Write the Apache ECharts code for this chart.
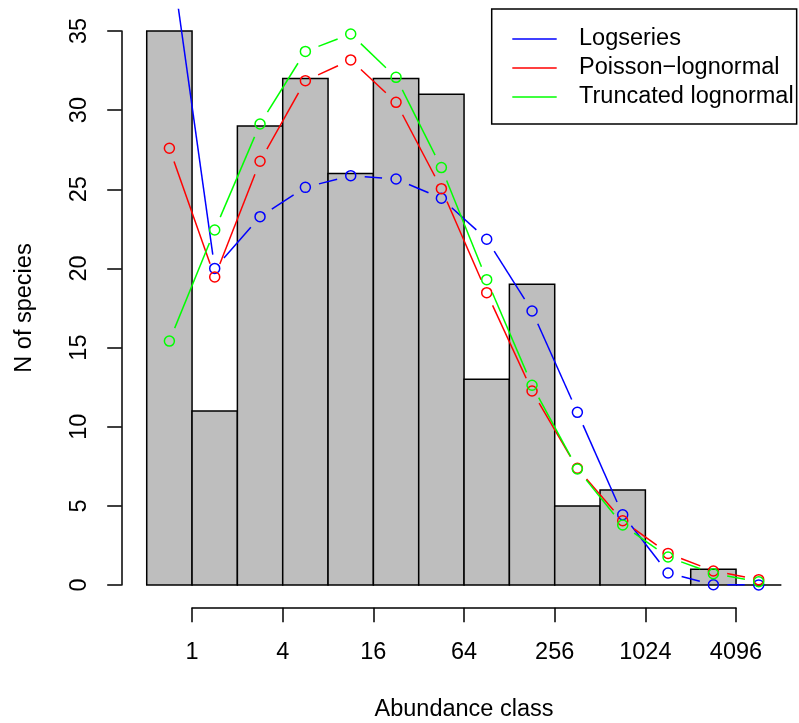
<!DOCTYPE html>
<html><head><meta charset="utf-8">
<script src="https://cdn.jsdelivr.net/npm/echarts@6/dist/echarts.min.js"></script>
<style>html,body{margin:0;padding:0;background:#fff}#c{width:799px;height:723px}</style>
</head><body><div id="c"></div>
<script>
// ---- data ----
const classTickValues = [0, 2, 4, 6, 8, 10, 12];           // log2 positions of tick labels
const classTickLabels = ['1', '4', '16', '64', '256', '1024', '4096'];
const observed = [35, 11, 29, 32, 26, 32, 31, 13, 19, 5, 6, 0, 1, 0];
const logseries = [40.5, 20.0, 23.27, 25.12, 25.86, 25.65, 24.43, 21.84, 17.31, 10.91, 4.44, 0.76, 0.02, 0.01];
const poissonLognormal = [27.59, 19.46, 26.77, 31.86, 33.17, 30.49, 25.04, 18.47, 12.26, 7.37, 4.06, 2.0, 0.89, 0.34];
const truncLognormal = [15.41, 22.43, 29.12, 33.71, 34.81, 32.07, 26.37, 19.29, 12.62, 7.33, 3.79, 1.77, 0.72, 0.21];
const seriesNames = ['Logseries', 'Poisson\u2212lognormal', 'Truncated lognormal'];
const yTicks = [0, 5, 10, 15, 20, 25, 30, 35];

// ---- styling ----
const FONT = '"Liberation Sans", Arial, Helvetica, sans-serif';
const FS = 23.5;
const colors = ['#0000FF', '#FF0000', '#00FF00'];
const LW = 1.5;
const GAP = 14;

const fitted = [logseries, poissonLognormal, truncLognormal];
const centers = observed.map((_, i) => i - 0.5);

function segData(vals) {
  const d = [];
  for (let i = 0; i < vals.length - 1; i++) d.push([centers[i], vals[i], centers[i + 1], vals[i + 1]]);
  return d;
}

const series = [];
series.push({
  type: 'custom', name: 'observed', xAxisIndex: 0, yAxisIndex: 0, z: 1,
  data: observed.map((v, i) => [i - 1, i, v]),
  encode: { x: [0, 1], y: 2 },
  renderItem: function (params, api) {
    const p0 = api.coord([api.value(0), api.value(2)]);
    const p1 = api.coord([api.value(1), 0]);
    return {
      type: 'rect',
      shape: { x: p0[0], y: p0[1], width: p1[0] - p0[0], height: p1[1] - p0[1] },
      style: { fill: '#BEBEBE', stroke: '#000', lineWidth: LW }
    };
  },
  silent: true
});

fitted.forEach((vals, k) => {
  series.push({
    type: 'custom', name: seriesNames[k], xAxisIndex: 0, yAxisIndex: 0, z: 2 + k,
    clip: true,
    data: segData(vals),
    encode: { x: [0, 2], y: [1, 3] },
    itemStyle: { color: colors[k] },
    renderItem: function (params, api) {
      const p1 = api.coord([api.value(0), api.value(1)]);
      const p2 = api.coord([api.value(2), api.value(3)]);
      const dx = p2[0] - p1[0], dy = p2[1] - p1[1];
      const L = Math.hypot(dx, dy);
      if (L <= 2 * GAP) return { type: 'group', children: [] };
      const ux = dx / L, uy = dy / L;
      return {
        type: 'line',
        shape: { x1: p1[0] + ux * GAP, y1: p1[1] + uy * GAP, x2: p2[0] - ux * GAP, y2: p2[1] - uy * GAP },
        style: { stroke: colors[k], lineWidth: LW }
      };
    },
    silent: true
  });
  series.push({
    type: 'scatter', name: seriesNames[k], xAxisIndex: 0, yAxisIndex: 0, z: 2 + k,
    clip: true,
    data: vals.map((v, i) => [centers[i], v]),
    symbol: 'circle', symbolSize: 10,
    itemStyle: { color: 'rgba(0,0,0,0)', borderColor: colors[k], borderWidth: LW, opacity: 1 },
    emphasis: { disabled: true },
    silent: true
  });
});

const axisText = { fontFamily: FONT, fontSize: FS, color: '#000' };
const blackLine = { color: '#000', width: LW };

// plot region: x from -1.56 (px 121.33) at 45.333 px per octave, clipped to the canvas edge
const PX_PER_OCT = 45.333;
const PLOT_LEFT = 121.33;
const PLOT_W = 799 - PLOT_LEFT;
const XMIN = -1.56;
const XMAX = XMIN + PLOT_W / PX_PER_OCT;

const option = {
  animation: false,
  backgroundColor: '#fff',
  textStyle: { fontFamily: FONT },
  grid: [
    { left: PLOT_LEFT, top: 8.8, width: PLOT_W, height: 598.4 },  // plot region
    { left: 121.7, top: 30.96, width: 10, height: 554.08 },       // y axis holder
    { left: 192, top: 597.7, width: 544, height: 10 }             // x axis holder
  ],
  xAxis: [
    { gridIndex: 0, type: 'value', min: XMIN, max: XMAX, show: false },
    { gridIndex: 1, type: 'value', min: 0, max: 1, show: false },
    {
      gridIndex: 2, type: 'value', min: classTickValues[0], max: classTickValues[classTickValues.length - 1], interval: 2,
      position: 'bottom',
      axisLine: { show: true, lineStyle: blackLine },
      axisTick: { show: true, length: 14.5, lineStyle: blackLine },
      splitLine: { show: false },
      axisLabel: Object.assign({
        margin: 45, verticalAlign: 'middle', showMinLabel: true, showMaxLabel: true,
        formatter: v => classTickLabels[classTickValues.indexOf(v)]
      }, axisText),
      name: 'Abundance class', nameLocation: 'middle', nameGap: 102,
      nameTextStyle: Object.assign({ verticalAlign: 'middle' }, axisText)
    }
  ],
  yAxis: [
    { gridIndex: 0, type: 'value', min: -1.4, max: 36.4, show: false },
    {
      gridIndex: 1, type: 'value', min: yTicks[0], max: yTicks[yTicks.length - 1], interval: 5,
      position: 'left',
      axisLine: { show: true, lineStyle: blackLine },
      axisTick: { show: true, length: 14.5, lineStyle: blackLine },
      splitLine: { show: false },
      axisLabel: Object.assign({ rotate: 90, margin: 42.4, verticalAlign: 'middle', align: 'center', showMinLabel: true, showMaxLabel: true }, axisText),
      name: 'N of species', nameLocation: 'middle', nameGap: 97.4, nameRotate: 90,
      nameTextStyle: Object.assign({ verticalAlign: 'middle', align: 'center' }, axisText)
    },
    { gridIndex: 2, type: 'value', min: 0, max: 1, show: false }
  ],
  legend: {
    left: 491.7, top: 9, orient: 'vertical',
    padding: [15.5, 3, 12.5, 20.6],
    borderColor: '#000', borderWidth: LW, borderRadius: 0, backgroundColor: '#fff',
    itemWidth: 44.4, itemHeight: 1.5, itemGap: 0,
    selectedMode: false,
    textStyle: { fontFamily: FONT, fontSize: FS, color: '#000', lineHeight: 29, padding: [0, 0, 0, 17.3] },
    data: seriesNames.map((n, k) => ({ name: n, icon: 'rect', itemStyle: { color: colors[k], borderWidth: 0 } }))
  },
  series: series
};

const chart = echarts.init(document.getElementById('c'), null, { renderer: 'canvas' });
chart.setOption(option);
</script>
</body></html>
